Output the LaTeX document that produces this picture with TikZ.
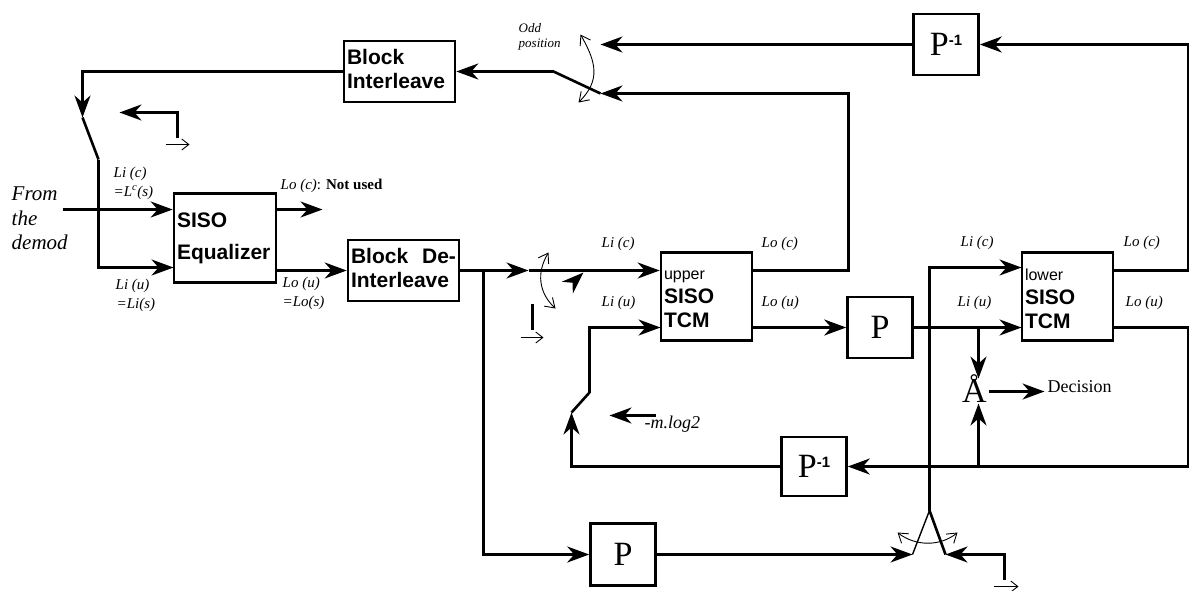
\documentclass[tikz,border=0pt]{standalone}
\usepackage{fontspec}
\setmainfont{Liberation Serif}
\setsansfont{Liberation Sans}
\usetikzlibrary{arrows.meta}
\newcommand{\Pinv}{P\raisebox{10pt}{\fontsize{15}{15}\selectfont\sffamily\bfseries -1}}
\tikzset{
    sig/.style={line width=2.6pt},
    sigarr/.style={sig, -{Stealth[length=22pt,width=16pt,inset=7pt]}},
    hint/.style={line width=0.9pt},
    hintarr/.style={hint, -{Straight Barb[length=7pt,width=11pt]}},
    hintboth/.style={hint, {Straight Barb[length=9pt,width=12pt]}-{Straight Barb[length=9pt,width=12pt]}},
    block/.style={draw, line width=2.6pt, inner xsep=3pt, inner ysep=0pt, align=left, font=\sffamily\bfseries\fontsize{21}{24}\selectfont},
    perm/.style={draw, line width=2.6pt, inner sep=0pt, font=\fontsize{34}{34}\selectfont},
    lbl/.style={anchor=west, inner sep=0pt, font=\itshape\fontsize{15}{15}\selectfont}
}
\begin{document}
\begin{tikzpicture}[x=1pt, y=-1pt]
    \useasboundingbox (-0.5,-0.5) rectangle (1188.5,589.5);
    % blocks
    \node[block, text width=105pt, minimum height=61pt] (intl) at (399,71) {Block\\Interleave\vspace{6pt}};
    \node[block, text width=96pt, minimum height=89pt] (eq) at (224.5,237.5) {SISO\\[8pt]Equalizer};
    \node[block, text width=105pt, minimum height=61pt] (dein) at (403,270) {Block\hfill De-\\Interleave\vspace{6pt}};
    \node[block, text width=85pt, minimum height=88pt] (upper) at (706,296) {{\mdseries\fontsize{16}{16}\selectfont upper}\\SISO\\TCM\vspace{-5pt}};
    \node[block, text width=85pt, minimum height=88pt] (lower) at (1067,296) {{\mdseries\fontsize{16}{16}\selectfont lower}\\SISO\\TCM\vspace{-5pt}};
    \node[perm, minimum width=65pt, minimum height=61pt] (ptop) at (945.5,44) {\Pinv};
    \node[perm, minimum width=65pt, minimum height=61pt] (pmid) at (879.5,327) {P};
    \node[perm, minimum width=65pt, minimum height=59pt] (pret) at (813.5,466) {\Pinv};
    \node[perm, minimum width=65pt, minimum height=62pt] (pbot) at (622.5,554) {P};
    \node[inner sep=0pt, font=\fontsize{34}{34}\selectfont] (sum) at (974,388) {Å};
    % ports and corners
    \coordinate (demod) at (62,209);
    \coordinate (eqc) at (eq.west |- demod);
    \coordinate (eqco) at (eq.east |- demod);
    \coordinate (eqcend) at (322,209);
    \coordinate (equ) at (173,267);
    \coordinate (swla) at (82,117);
    \coordinate (swlb) at (98,159);
    \coordinate (midc) at (528,270);
    \coordinate (fork) at (483,270);
    \coordinate (upc) at (upper.west |- midc);
    \coordinate (upco) at (752,270);
    \coordinate (upu) at (660,327);
    \coordinate (swua) at (589,392);
    \coordinate (swub) at (571,412);
    \coordinate (swoa) at (553,71);
    \coordinate (swob) at (600,93);
    \coordinate (swoc) at (600,44);
    \coordinate (loc) at (1021,267);
    \coordinate (lou) at (1021,327);
    \coordinate (lowco) at (1113,270);
    \coordinate (lowuo) at (1113,327);
    \coordinate (swba) at (912,554);
    \coordinate (swbb) at (945,554);
    \coordinate (swbt) at (929,510);
    \coordinate (tap) at (978,327);
    \coordinate (tapd) at (978,466);
    % top row
    \draw[sigarr] (ptop.west) -- (swoc);
    \draw[sigarr] (lowco) -- (1188,270) |- (ptop.east);
    \draw[sigarr] (upco) -- (848,270) |- (swob);
    \draw[sig] (swob) -- (swoa);
    \draw[sigarr] (swoa) -- (intl.east);
    \draw[sigarr] (intl.west) -| (swla);
    \draw[sig] (swla) -- (swlb);
    \draw[sigarr] (swlb) |- (equ);
    % equalizer
    \draw[sigarr] (demod) -- (eqc);
    \draw[sigarr] (eqco) -- (eqcend);
    \draw[sigarr] (276,270) -- (dein.west);
    \draw[sigarr] (dein.east) -- (midc);
    \draw[sigarr] (midc) -- (upc);
    \draw[sigarr] (fork) |- (pbot.west);
    % upper and lower decoder
    \draw[sigarr] (upper.east |- upu) -- (pmid.west);
    \draw[sigarr] (pmid.east) -- (lou);
    \draw[sigarr] (swua) |- (upu);
    \draw[sig] (swua) -- (swub);
    \draw[sigarr] (lowuo) -- (1188,327) |- (pret.east);
    \draw[sigarr] (pret.west) -| (swub);
    \draw[sigarr] (tap) -- (978,378);
    \draw[sigarr] (tapd) -- (978,403);
    \coordinate (dec) at (1044,391);
    \draw[sigarr] (988,391) -- (dec);
    % bottom switch
    \draw[sigarr] (pbot.east) -- (swba);
    \draw[line width=1.4pt] (swba) -- (swbt);
    \draw[sig] (swbb) -- (swbt);
    \draw[sigarr] (swbt) |- (loc);
    \draw[sigarr] (1004,579) |- (swbb);
    % position hints
    \draw[sigarr] (177,137) |- (119,112);
    \draw[hintarr] (165,144) -- (189,144);
    \draw[sig] (532,303) -- (532,329);
    \draw[hintarr] (520,337) -- (543,337);
    \draw[hintarr] (993,586) -- (1018,586);
    \draw[sigarr] (655,415) -- (609,415);
    \draw[sigarr] (575,279.5) -- (583,272);
    \draw[hintboth] (580,34) .. controls (596,62) and (600,80) .. (578,102);
    \draw[hintboth] (548,252) .. controls (536,272) and (538,292) .. (555,308);
    \draw[hintboth] (897,532) .. controls (915,546) and (940,546) .. (957,532);
    % labels
    \foreach \px/\py/\txt [count=\i] in {
        113/173/{Li (c)}, 113/192/{=L\textsuperscript{c}(s)}, 115/285/{Li (u)}, 116/304/{=Li(s)},
        280/185/{Lo (c)\normalfont: \textbf{Not used}}, 282/283/{Lo (u)}, 282/302/{=Lo(s)},
        601/243/{Li (c)}, 601/302/{Li (u)}, 761/243/{Lo (c)}, 761/302/{Lo (u)},
        960/242/{Li (c)}, 957/302/{Li (u)}, 1123/242/{Lo (c)}, 1125/302/{Lo (u)}} {
        \node[lbl] (lab\i) at (\px,\py) {\txt};
    }
    \node[lbl, font=\itshape\fontsize{13}{15}\selectfont, align=left] (odd) at (518,36.5) {Odd\\position};
    \node[lbl, font=\itshape\fontsize{21}{24.5}\selectfont, align=left] (from) at (11,218) {From\\the\\demod};
    \node[lbl, font=\itshape\fontsize{18}{18}\selectfont] (mlog) at (644,424) {-m.log2};
    \node[lbl, font=\fontsize{18}{18}\selectfont] (decide) at (1047,386) {Decision};
\end{tikzpicture}
\end{document}
